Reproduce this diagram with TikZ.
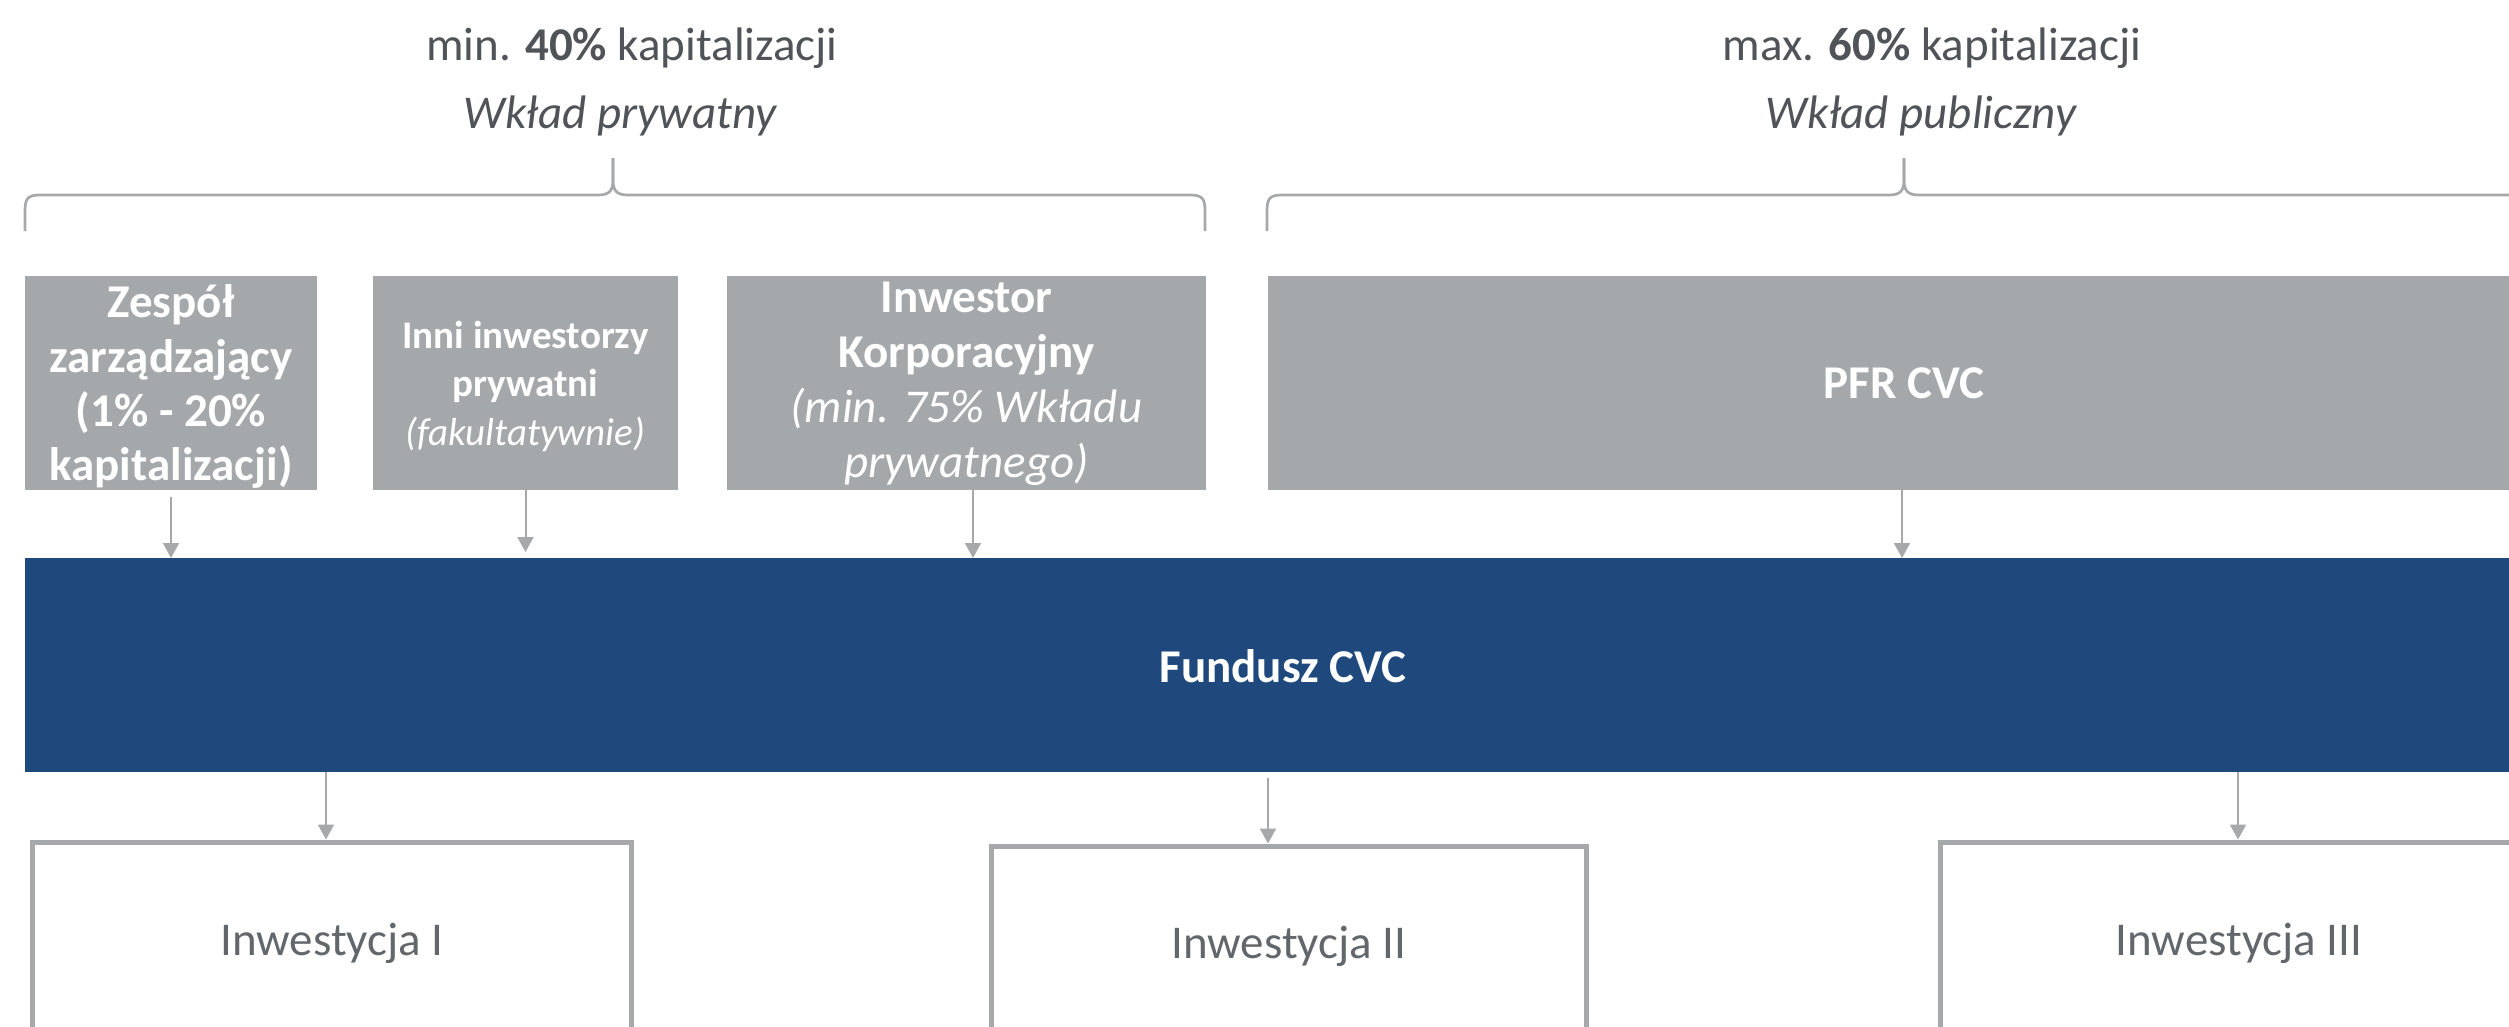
\documentclass[tikz,border=0pt]{standalone}
\usepackage{fontspec}
\setmainfont{Carlito}
\usetikzlibrary{arrows.meta,calc}
\definecolor{boxgray}{HTML}{A5A8AB}
\definecolor{navy}{HTML}{1F497D}
\definecolor{headtxt}{HTML}{505458}
\definecolor{invtxt}{HTML}{62676B}
\definecolor{linegray}{HTML}{A6A8AA}
\begin{document}
\begin{tikzpicture}[x=1pt,y=-1pt,
  gbox/.style={rectangle, fill=boxgray, draw=none, inner sep=0pt, outer sep=0pt, minimum height=214pt},
  fundbox/.style={rectangle, fill=navy, draw=none, inner sep=0pt, outer sep=0pt},
  invbox/.style={rectangle, draw=linegray, line width=5pt, fill=none, inner sep=0pt, minimum height=259pt},
  wtxt/.style={inner sep=0pt, align=center, text=white},
  htxt/.style={inner sep=0pt, anchor=base, text=headtxt, font=\fontsize{47pt}{56pt}\selectfont},
  itxt/.style={inner sep=0pt, anchor=base, text=invtxt, font=\fontsize{47pt}{56pt}\selectfont},
  arr/.style={draw=linegray, line width=2pt, -{Triangle[width=16pt,length=15pt]}},
  br/.style={draw=linegray, line width=2.7pt, line cap=butt, line join=round}]
\useasboundingbox (0,0) rectangle (2509,1026);
\clip (0,0) rectangle (2509,1026);

% headers
\node[htxt] (h1) at (632,60) {min. \textbf{40\%} kapitalizacji};
\node[htxt] (h2) at (620,128) {\itshape Wkład prywatny};
\node[htxt] (h3) at (1932,60) {max. \textbf{60\%} kapitalizacji};
\node[htxt] (h4) at (1921,128) {\itshape Wkład publiczny};

% braces
\draw[br] (25,231) -- (25,212) .. controls (25,199) and (27,195) .. (40,195) -- (598,195)
  .. controls (609,195) and (613,191) .. (613,180) -- (613,158);
\draw[br] (613,158) -- (613,180) .. controls (613,191) and (617,195) .. (628,195) -- (1190,195)
  .. controls (1203,195) and (1205,199) .. (1205,212) -- (1205,231);
\draw[br] (1267,231) -- (1267,212) .. controls (1267,199) and (1269,195) .. (1282,195) -- (1889,195)
  .. controls (1900,195) and (1904,191) .. (1904,180) -- (1904,158);
\draw[br] (1904,158) -- (1904,180) .. controls (1904,191) and (1908,195) .. (1919,195) -- (2600,195);

% contributor boxes
\node[gbox, minimum width=292pt] (zesp) at (171,383) {};
\node[gbox, minimum width=305pt] (inni) at (525.5,383) {};
\node[gbox, minimum width=479pt] (korp) at (966.5,383) {};
\node[gbox, minimum width=1272pt] (pfr) at (1904,383) {};

\node[wtxt, font=\bfseries\fontsize{47pt}{54.3pt}\selectfont] (zespt) at (171,388.5)
  {\strut Zespół\\zarządzający\\(1\% - 20\%\\kapitalizacji)\strut};
\node[wtxt, font=\fontsize{39pt}{48.5pt}\selectfont] (innit) at (525.5,386.8)
  {\strut\bfseries Inni inwestorzy\\\bfseries prywatni\\\itshape (fakultatywnie)\strut};
\node[wtxt, font=\fontsize{47pt}{55pt}\selectfont] (korpt) at (966.5,384)
  {\strut\bfseries Inwestor\\\bfseries Korporacyjny\\\itshape (min. 75\% Wkładu\\\itshape prywatnego)\strut};
\node[wtxt, anchor=base, font=\bfseries\fontsize{47pt}{56pt}\selectfont] (pfrt) at (1904,398) {PFR CVC};

% fund
\node[fundbox, minimum width=2516pt, minimum height=214pt] (fund) at (1283,665) {};
\node[wtxt, anchor=base, font=\bfseries\fontsize{47pt}{56pt}\selectfont] (fundt) at (1283,682) {Fundusz CVC};

% investments
\node[invbox, minimum width=599pt] (inv1) at (332,971.5) {};
\node[invbox, minimum width=595pt] (inv2) at (1289,975.5) {};
\node[invbox, minimum width=597pt] (inv3) at (2239,971.5) {};
\node[itxt] (inv1t) at (332,955) {Inwestycja I};
\node[itxt] (inv2t) at (1289,958) {Inwestycja II};
\node[itxt] (inv3t) at (2239,955) {Inwestycja III};

% arrows into fund
\draw[arr] ($(zesp.south)+(0,7)$) -- (zesp.south |- fund.north);
\draw[arr] (inni.south) -- ($(inni.south |- fund.north)+(0,-6)$);
\draw[arr] ($(korp.south)+(6.5,0)$) -- ($(korp.south |- fund.north)+(6.5,0)$);
\draw[arr] ($(pfr.south)+(-2,0)$) -- ($(pfr.south |- fund.north)+(-2,0)$);

% arrows out of fund
\draw[arr] ($(fund.south -| inv1.north)+(-6,0)$) -- ($(inv1.north)+(-6,0)$);
\draw[arr] ($(fund.south -| inv2.north)+(-21,6)$) -- ($(inv2.north)+(-21,0)$);
\draw[arr] ($(fund.south -| inv3.north)+(-1,0)$) -- ($(inv3.north)+(-1,0)$);
\end{tikzpicture}
\end{document}
